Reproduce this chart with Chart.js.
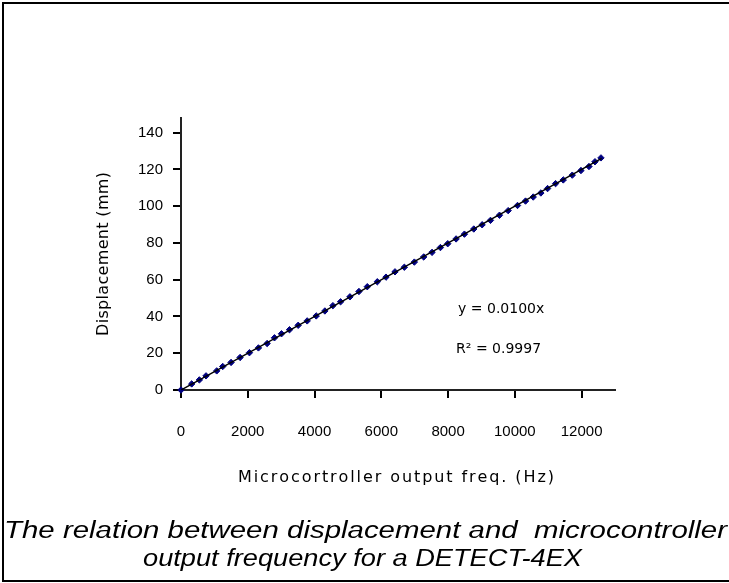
<!DOCTYPE html>
<html>
<head>
<meta charset="utf-8">
<script src="https://cdn.jsdelivr.net/npm/chart.js@4/dist/chart.umd.min.js"></script>
<style>
    html, body { margin: 0; padding: 0; background: #fff; }
    #wrap { position: relative; width: 729px; height: 583px; overflow: hidden; }
    #chart { position: absolute; left: 0; top: 0; }
    .frame { position: absolute; background: #000; }
    .caption { position: absolute; left: 0; white-space: nowrap; font-family: "Liberation Sans"; font-style: italic;
               font-size: 23px; line-height: 26px; color: #000; transform-origin: 0 50%; }
</style>
</head>
<body>
<div id="wrap">
    <canvas id="chart" width="729" height="583"></canvas>
    <div class="frame" style="left:2px; top:2px; width:727px; height:2px"></div>
    <div class="frame" style="left:2px; top:2px; width:2px; height:580px"></div>
    <div class="frame" style="left:2px; top:580px; width:727px; height:2px"></div>
    <span class="caption" id="cap1" style="top:517px">The relation between displacement and&nbsp; microcontroller</span>
    <span class="caption" id="cap2" style="top:545px">output frequency for a DETECT-4EX</span>
</div>
<script>
const freqHz = [0, 320, 550, 750, 1070, 1250, 1500, 1770, 2050, 2320, 2580, 2800, 3010, 3250, 3510,
    3780, 4050, 4310, 4550, 4780, 5060, 5330, 5580, 5880, 6140, 6410, 6690, 6990, 7270, 7520, 7770,
    7990, 8240, 8490, 8770, 9020, 9270, 9540, 9800, 10080, 10320, 10550, 10780, 10980, 11220, 11450,
    11720, 11980, 12220, 12400, 12580];
const displacementMm = [0, 3.3, 5.5, 7.7, 10.4, 12.8, 15, 17.7, 20.3, 22.9, 25.3, 28.4, 30.6, 32.8, 35.2,
    37.6, 40.3, 43, 45.9, 48, 50.7, 53.6, 56.2, 58.9, 61.4, 64.3, 66.8, 69.6, 72.4, 74.9, 77.5,
    79.6, 82.2, 84.8, 87.6, 89.9, 92.3, 95.1, 97.6, 100.4, 102.8, 105, 107.2, 109.6, 112.3, 114.3,
    116.9, 119.4, 121.6, 124.2, 126.3];

// linear trendline end points
const fitX = [0, 12600];
const fitY = [0, 126];

const xTicks = [0, 2000, 4000, 6000, 8000, 10000, 12000];
const yTicks = [0, 20, 40, 60, 80, 100, 120, 140];

const xTitle = 'Microcortroller output freq. (Hz)';
const yTitle = 'Displacement (mm)';
const fitLabels = ['y = 0.0100x', 'R\u00B2 = 0.9997'];

const FONT = 'Liberation Sans';
const TITLE_FONT = 'DejaVu Sans';

// draws text centred on (cx, cy), spread out to a given width
function drawSpaced(ctx, text, cx, cy, width) {
    const chars = text.split('');
    const widths = chars.map(c => ctx.measureText(c).width);
    const total = widths.reduce((a, b) => a + b, 0);
    const gap = chars.length > 1 ? (width - total) / (chars.length - 1) : 0;
    let x = cx - width / 2;
    ctx.textAlign = 'left';
    ctx.textBaseline = 'middle';
    chars.forEach((c, i) => {
        ctx.fillText(c, x, cy);
        x += widths[i] + gap;
    });
}

const textPlugin = {
    id: 'chartText',
    afterDraw(chart) {
        const ctx = chart.ctx;
        const area = chart.chartArea;
        const xs = chart.scales.x;
        const ys = chart.scales.y;
        ctx.save();
        ctx.fillStyle = '#000';

        // axis titles
        ctx.font = '16px "' + TITLE_FONT + '"';
        drawSpaced(ctx, xTitle, (area.left + area.right) / 2 - 2, xs.bottom - 12, 316);
        ctx.save();
        ctx.translate(ys.left + 16, (area.top + area.bottom) / 2);
        ctx.rotate(-Math.PI / 2);
        drawSpaced(ctx, yTitle, 0, 0, 164);
        ctx.restore();

        // trendline equation
        ctx.font = '14px "' + TITLE_FONT + '"';
        ctx.textAlign = 'left';
        ctx.textBaseline = 'middle';
        const x = xs.getPixelForValue(8300);
        ctx.fillText(fitLabels[0], x, ys.getPixelForValue(44));
        ctx.fillText(fitLabels[1], x - 2, ys.getPixelForValue(22));
        ctx.restore();
    }
};

const ctx = document.getElementById('chart').getContext('2d');
new Chart(ctx, {
    type: 'scatter',
    data: {
        datasets: [{
            type: 'line',
            data: fitX.map((x, i) => ({ x: x, y: fitY[i] })),
            borderColor: '#000',
            borderWidth: 1.5,
            pointRadius: 0,
            fill: false,
            order: 0
        }, {
            data: freqHz.map((x, i) => ({ x: x, y: displacementMm[i] })),
            pointStyle: 'rectRot',
            pointRadius: 3.2,
            backgroundColor: '#000080',
            borderColor: '#000080',
            borderWidth: 1,
            clip: false,
            order: 1
        }]
    },
    options: {
        responsive: false,
        animation: false,
        layout: { padding: { left: 88, right: 114, top: 118, bottom: 93 } },
        plugins: {
            legend: { display: false },
            tooltip: { enabled: false }
        },
        scales: {
            x: {
                type: 'linear',
                min: 0,
                max: 13000,
                afterBuildTicks: (scale) => { scale.ticks = xTicks.map(v => ({ value: v })); },
                afterFit: (scale) => { scale.height = 100; },
                grid: { drawOnChartArea: false, tickLength: 8, color: '#000', lineWidth: 2 },
                border: { color: '#222', width: 2 },
                ticks: {
                    color: '#000',
                    padding: 25,
                    maxRotation: 0,
                    callback: (v) => String(v),
                    font: { family: FONT, size: 15 }
                }
            },
            y: {
                type: 'linear',
                min: 0,
                max: 148,
                afterBuildTicks: (scale) => { scale.ticks = yTicks.map(v => ({ value: v })); },
                afterFit: (scale) => { scale.width = 93; },
                grid: { drawOnChartArea: false, tickLength: 8, color: '#000', lineWidth: 2 },
                border: { color: '#222', width: 2 },
                ticks: {
                    color: '#000',
                    padding: 10,
                    callback: (v) => String(v),
                    font: { family: FONT, size: 15 }
                }
            }
        }
    },
    plugins: [textPlugin]
});

// stretch caption lines to the widths seen in the picture
function fitCaption(id, left, width) {
    const el = document.getElementById(id);
    const w = el.getBoundingClientRect().width;
    el.style.left = left + 'px';
    el.style.transform = 'scaleX(' + (width / w) + ')';
}
fitCaption('cap1', 4, 723);
fitCaption('cap2', 143, 439);
</script>
</body>
</html>
